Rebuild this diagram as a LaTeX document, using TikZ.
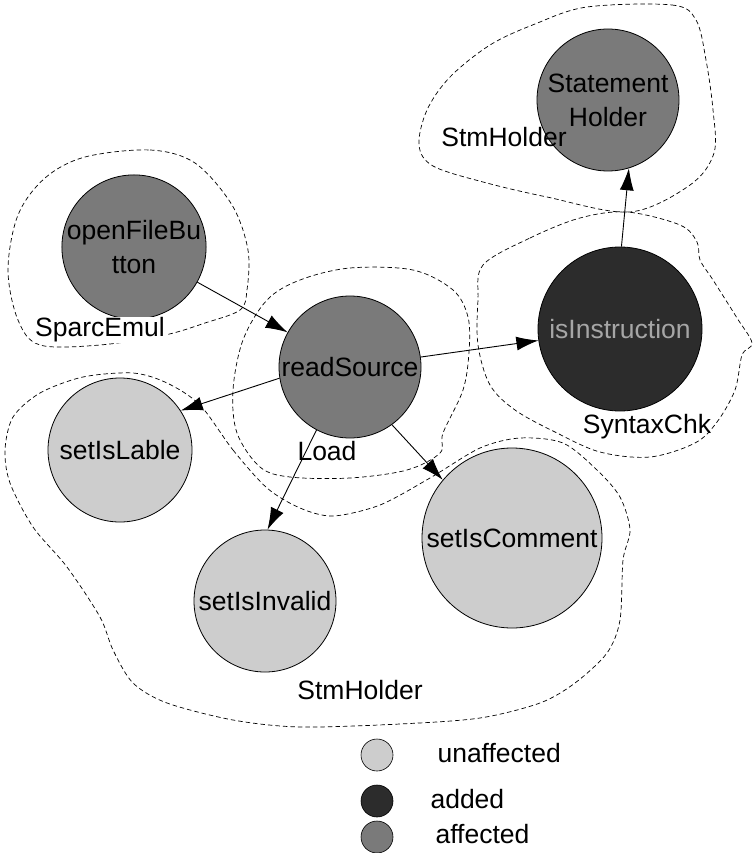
\documentclass[tikz,border=0pt]{standalone}
\usepackage{fontspec}
\setmainfont{Liberation Sans}
\usetikzlibrary{arrows.meta}
\definecolor{unaffgray}{HTML}{CDCDCD}
\definecolor{affgray}{HTML}{7A7A7A}
\definecolor{addgray}{HTML}{2C2C2C}
\begin{document}
\begin{tikzpicture}[x=1pt,y=-1pt,
  txt/.style={font=\fontsize{26.5}{34}\selectfont},
  cls/.style={circle,draw=black,line width=0.8pt,inner sep=0pt,minimum size=#1,align=center,txt},
  unaff/.style={cls=#1,fill=unaffgray},
  aff/.style={cls=#1,fill=affgray},
  added/.style={cls=#1,fill=addgray,text=gray!70},
  pkg/.style={draw=black,line width=0.7pt,dash pattern=on 4.5pt off 3pt},
  pkglabel/.style={txt,inner sep=1pt},
  dep/.style={draw=black,line width=0.9pt,-{Latex[length=22pt,width=14pt]}},
  key/.style={circle,draw=black,line width=0.6pt,minimum size=32pt,inner sep=0pt},
  keytext/.style={txt,anchor=west}
]
\useasboundingbox (0,0) rectangle (752,853);

% package outlines
\draw[pkg] plot[smooth cycle,tension=0.55] coordinates {
  (587,7) (672,5) (696,20) (706,60) (713,110) (714,153) (690,185) (630,212)
  (547,197) (483,182) (433,166) (419,145) (427,110) (450,77) (490,45) (535,24)};
\draw[pkg] plot[smooth cycle,tension=0.55] coordinates {
  (85,157) (150,150) (195,163) (232,205) (248,250) (247,290) (240,310)
  (205,323) (165,335) (100,345) (40,345) (18,320) (8,270) (18,215) (45,178)};
\draw[pkg] plot[smooth cycle,tension=0.55] coordinates {
  (300,280) (350,268) (413,270) (453,290) (468,317) (469,352) (463,390)
  (443,433) (440,453) (407,470) (350,478) (290,477) (260,467) (237,433)
  (233,390) (243,340) (267,300)};
\draw[pkg] plot[smooth cycle,tension=0.55] coordinates {
  (483,265) (530,238) (580,218) (627,212) (680,225) (697,242) (700,260)
  (713,280) (737,318) (752,343) (742,355) (735,390) (717,422) (695,443)
  (650,457) (600,452) (555,432) (515,410) (490,385) (478,345) (478,300)};
\draw[pkg] plot[smooth cycle,tension=0.5] coordinates {
  (200,405) (233,450) (267,488) (300,508) (333,516) (380,505) (430,478)
  (480,448) (520,438) (563,443) (597,470) (620,497) (630,530) (623,560)
  (620,620) (607,653) (575,683) (540,703) (480,718) (400,724) (300,727)
  (233,720) (167,703) (133,683) (113,650) (100,617) (67,567) (33,527)
  (10,483) (5,450) (13,417) (40,393) (83,377) (133,373) (167,383)};

% classes
\node[aff=142pt]   (sh)  at (608,100) {Statement\\Holder};
\node[aff=142pt]   (ofb) at (134,247) {openFileBu\\tton};
\node[aff=142pt]   (rs)  at (350,367) {readSource};
\node[added=164pt] (ins) at (620,329) {isInstruction};
\node[unaff=144pt] (lab) at (120,450) {setIsLable};
\node[unaff=142pt] (inv) at (265,601) {setIsInvalid};
\node[unaff=180pt] (com) at (512,538) {setIsComment};

% package names
\node[pkglabel] (p1) at (504,137) {StmHolder};
\node[pkglabel,fill=white] (p2) at (100,330) {SparcEmul};
\node[pkglabel] (p3) at (327,451) {Load};
\node[pkglabel] (p4) at (647,427) {SyntaxChk};
\node[pkglabel] (p5) at (360,690) {StmHolder};

% dependencies
\draw[dep] (ofb) -- (rs);
\draw[dep] (rs) -- (ins);
\draw[dep] (rs.189) -- (lab.33);
\draw[dep] (rs.242) -- (inv.88);
\draw[dep] (rs.306) -- (com.140);
\draw[dep] (ins.89) -- (sh.287);

% key
\node[key,fill=unaffgray] (k1) at (377,755) {};
\node[key,fill=addgray]   (k2) at (377,801) {};
\node[key,fill=affgray]   (k3) at (377,837) {};
\node[keytext] (t1) at (434,753) {unaffected};
\node[keytext] (t2) at (427,799) {added};
\node[keytext] (t3) at (432,834) {affected};
\end{tikzpicture}
\end{document}
